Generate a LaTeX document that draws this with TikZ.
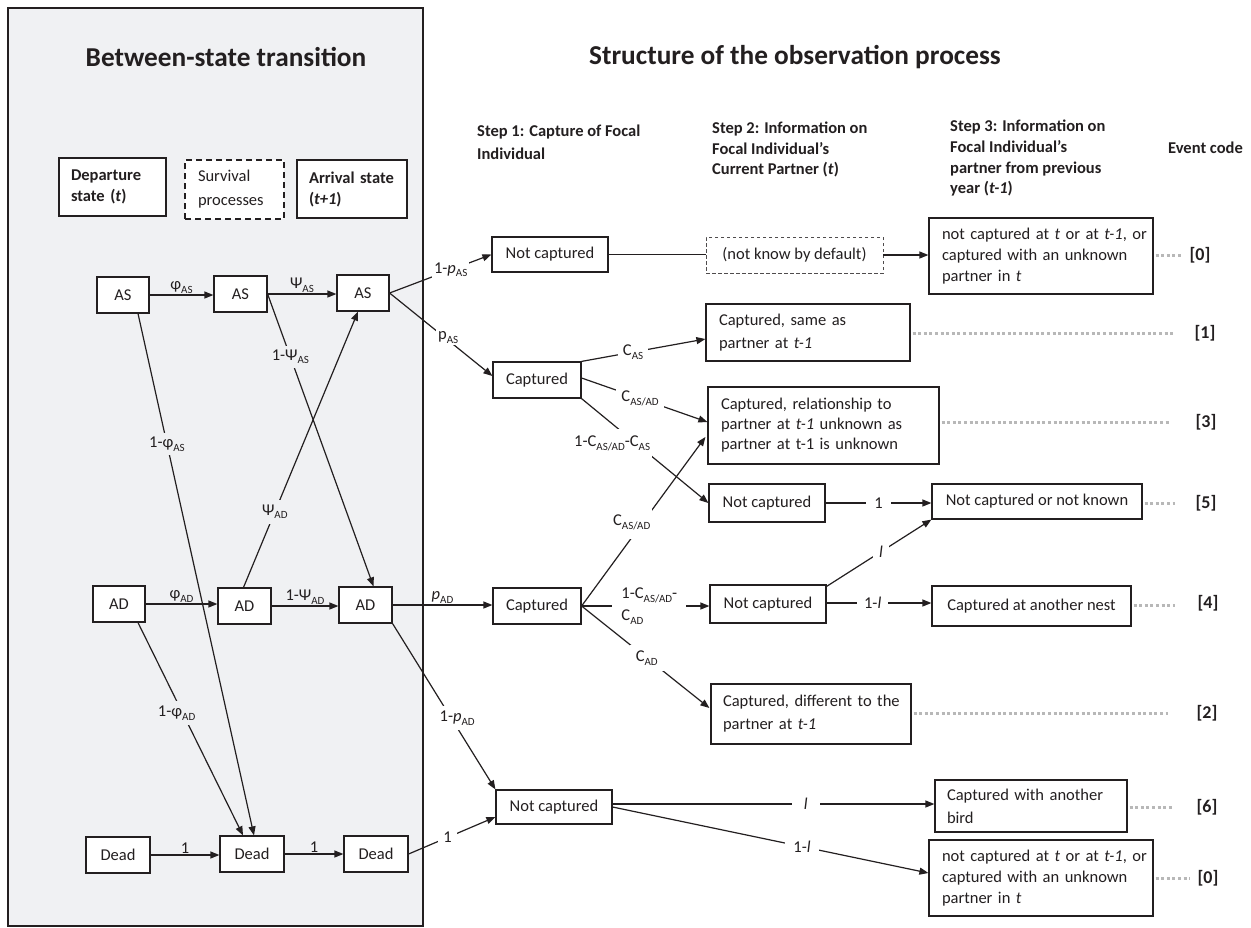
\documentclass[tikz,border=0pt]{standalone}
\usepackage{fontspec}
\setmainfont{Carlito}
\usetikzlibrary{arrows.meta,calc}
\definecolor{panel}{HTML}{F0F1F3}
\definecolor{ink}{HTML}{231F20}
\definecolor{dotc}{HTML}{B8B8B8}
\newcommand\sbs[1]{\raisebox{-0.22em}{\fontsize{11}{11}\selectfont #1}}
\newcommand\fsn{\fontsize{16.5}{21}\selectfont}
\begin{document}
\begin{tikzpicture}[x=1pt,y=-1pt,
  box/.style={draw=ink, line width=1.2pt, fill=white, inner sep=0pt, font=\fsn, text=ink},
  lbox/.style={box, align=left},
  arr/.style={draw=ink, line width=1.2pt, -{Triangle[length=9pt,width=7pt]}},
  ln/.style={draw=ink, line width=1.2pt},
  lbl/.style={font=\fsn, text=ink, inner sep=2pt, fill=white},
  lblg/.style={lbl, fill=panel},
  lbln/.style={font=\fsn, text=ink, inner sep=0pt},
  head/.style={font=\bfseries\fontsize{16.5}{23}\selectfont, align=left, inner sep=0pt, text=ink},
  ttl/.style={font=\bfseries\fontsize{27.3}{32}\selectfont, inner sep=0pt, text=ink, anchor=base},
  code/.style={font=\bfseries\fontsize{18}{20}\selectfont, inner sep=0pt, text=ink},
  dotl/.style={draw=dotc, line width=3pt, dash pattern=on 3pt off 2.6pt}
]
\useasboundingbox (0,0) rectangle (1251,927);
\fill[white] (0,0) rectangle (1251,927);
% left panel
\node[draw=ink, fill=panel, line width=1.2pt, minimum width=415pt, minimum height=918pt, inner sep=0pt] (panelbox) at (215.5,467) {};
\node[ttl] (t1) at (226,66) {Between-state transition};
\node[ttl] (t2) at (795,64) {Structure of the observation process};

% legend
\node[lbox, font=\bfseries\fontsize{16.5}{21}\selectfont, minimum width=107pt, minimum height=58pt, text width=83pt] (dep) at (112.5,187) {\mbox{Departure}\\\mbox{state (\textit{t})}};
\node[lbox, dashed, line width=1.8pt, dash pattern=on 6pt off 4pt, minimum width=99pt, minimum height=59pt, text width=73pt, font=\fontsize{16.5}{24}\selectfont] (surv) at (234.5,189.5) {\mbox{Survival}\\\mbox{processes}};
\node[lbox, font=\bfseries\fontsize{16.5}{21}\selectfont, minimum width=110pt, minimum height=58pt, text width=86pt] (arrv) at (352,189) {\mbox{Arrival state}\\\mbox{(\textit{t+1})}};

% state boxes
\node[box, minimum width=52pt, minimum height=36pt] (AS1) at (123,295) {AS};
\node[box, minimum width=53pt, minimum height=36pt] (AS2) at (240.5,294) {AS};
\node[box, minimum width=52pt, minimum height=36pt] (AS3) at (363,293) {AS};
\node[box, minimum width=52pt, minimum height=36pt] (AD1) at (119,604) {AD};
\node[box, minimum width=53pt, minimum height=36pt] (AD2) at (244.5,606) {AD};
\node[box, minimum width=53pt, minimum height=36pt] (AD3) at (365.5,605) {AD};
\node[box, minimum width=64pt, minimum height=36pt] (D1) at (118,855) {Dead};
\node[box, minimum width=64pt, minimum height=36pt] (D2) at (252,854) {Dead};
\node[box, minimum width=64pt, minimum height=36pt] (D3) at (376,854) {Dead};

% left panel connectors
\draw[arr] (AS1.east) -- node[lbln, above=1pt]{φ\sbs{AS}} (AS1.east -| AS2.west);
\draw[arr] (AS2.east) -- node[lbln, above=1pt]{Ψ\sbs{AS}} (AS2.east -| AS3.west);
\draw[arr] (AD1.east) -- node[lbln, above=1pt]{φ\sbs{AD}} (AD1.east -| AD2.west);
\draw[arr] (AD2.east) -- node[lbln, above=1pt]{1-Ψ\sbs{AD}} (AD2.east -| AD3.west);
\draw[arr] (D1.east) -- node[lbln, above=1pt]{1} (D1.east -| D2.west);
\draw[arr] (D2.east) -- node[lbln, above=1pt]{1} (D2.east -| D3.west);
\draw[arr] ($(AS1.south)+(15,0)$) -- node[lblg, pos=0.25, inner sep=4pt]{1-φ\sbs{AS}} ($(D2.north)+(2,0)$);
\draw[arr] (AS2.east) -- node[lblg, pos=0.215, inner sep=4pt]{1-Ψ\sbs{AS}} ($(AD3.north)+(8,0)$);
\draw[arr] ($(AD2.north)+(-1,0)$) -- node[lblg, pos=0.274, inner sep=5pt]{Ψ\sbs{AD}} ($(AS3.south)+(-5,0)$);
\draw[arr] ($(AD1.south)+(19,0)$) -- node[lblg, pos=0.425, xshift=-6pt, inner sep=5pt]{1-φ\sbs{AD}} ($(D2.north)+(-9,0)$);

% observation boxes
\node[box, minimum width=116pt, minimum height=35pt] (NC1) at (550,254.5) {Not captured};
\node[box, minimum width=88pt, minimum height=36pt] (Cap1) at (537,380) {Captured};
\node[box, draw=ink!80, line width=0.8pt, dash pattern=on 3.5pt off 2.5pt, minimum width=177pt, minimum height=36pt] (Dash) at (794.5,255) {(not know by default)};
\node[lbox, minimum width=224pt, minimum height=76pt, text width=198pt] (B0a) at (1041,256) {\mbox{not captured at \textit{t} or at \textit{t-1}, or}\\\mbox{captured with an unknown}\\\mbox{partner in \textit{t}}};
\node[lbox, minimum width=204pt, minimum height=57pt, text width=178pt, font=\fontsize{16.5}{23}\selectfont] (Same) at (808,332.5) {\mbox{Captured, same as}\\\mbox{partner at \textit{t-1}}};
\node[lbox, minimum width=231pt, minimum height=77pt, text width=205pt, font=\fontsize{16.5}{20}\selectfont] (Rel) at (823.5,425.5) {\mbox{Captured, relationship to}\\\mbox{partner at \textit{t-1} unknown as}\\\mbox{partner at t-1 is unknown}};
\node[box, minimum width=116pt, minimum height=38pt] (NC2) at (767,503) {Not captured};
\node[box, minimum width=210pt, minimum height=35pt] (NCK) at (1037,501.5) {Not captured or not known};
\node[box, minimum width=88pt, minimum height=36pt] (Cap2) at (537,606) {Captured};
\node[box, minimum width=116pt, minimum height=38pt] (NC3) at (768,604) {Not captured};
\node[box, minimum width=199pt, minimum height=40pt] (Anot) at (1031.5,606) {Captured at another nest};
\node[lbox, minimum width=200pt, minimum height=60pt, text width=176pt, font=\fontsize{16.5}{23}\selectfont] (Diff) at (811,714) {\mbox{Captured, different to the}\\\mbox{partner at \textit{t-1}}};
\node[box, minimum width=116pt, minimum height=34pt] (NC4) at (554,807) {Not captured};
\node[lbox, minimum width=192pt, minimum height=52pt, text width=168pt, font=\fontsize{16.5}{23}\selectfont] (Bird) at (1031,806) {\mbox{Captured with another}\\\mbox{bird}};
\node[lbox, minimum width=224pt, minimum height=76pt, text width=198pt] (B0b) at (1041,878) {\mbox{not captured at \textit{t} or at \textit{t-1}, or}\\\mbox{captured with an unknown}\\\mbox{partner in \textit{t}}};

% headings
\node[head, anchor=north west] (s1) at (477,125) {Step 1: Capture of Focal\\Individual};
\node[head, anchor=north west, font=\bfseries\fontsize{16.5}{20.5}\selectfont] (s2) at (712,122) {Step 2: Information on\\Focal Individual’s\\Current Partner (\textit{t})};
\node[head, anchor=north west, font=\bfseries\fontsize{16.5}{20.7}\selectfont] (s3) at (950,120) {Step 3: Information on\\Focal Individual’s\\partner from previous\\year (\textit{t-1})};
\node[head, anchor=west] (ec) at (1168,148) {Event code};

% cross connectors
\draw[arr] (AS3.east) -- node[lbl, pos=0.6]{1-\textit{p}\sbs{AS}} (NC1.west);
\draw[arr] (AS3.east) -- node[lbl, pos=0.57, yshift=3pt]{p\sbs{AS}} ($(Cap1.west)+(0,-4)$);
\draw[arr] (AD3.east) -- node[lbln, above=1pt]{\textit{p}\sbs{AD}} (AD3.east -| Cap2.west);
\draw[arr] (AD3.south east) -- node[lbl, pos=0.57, xshift=6pt, inner sep=5pt]{1-\textit{p}\sbs{AD}} (NC4.north west);
\draw[arr] (D3.east) -- node[lbl, pos=0.45, inner sep=5pt]{1} ($(NC4.west)+(0,10)$);

% observation connectors
\draw[ln] (NC1.east) -- (NC1.east -| Dash.west);
\draw[arr] (Dash.east) -- (Dash.east -| B0a.west);
\draw[arr] (Cap1.north east) -- node[lbl, pos=0.416, inner sep=5pt]{C\sbs{AS}} ($(Same.west)+(0,6.5)$);
\draw[arr] ($(Cap1.east)+(0,-2)$) -- node[lbl, pos=0.465, inner sep=5pt]{C\sbs{AS/AD}} ($(Rel.west)+(0,-3.5)$);
\draw[arr] (Cap1.south east) -- node[lbl, pos=0.43, xshift=-24pt, inner ysep=7pt]{1-C\sbs{AS/AD}-C\sbs{AS}} (NC2.west);
\draw[arr] (Cap2.east) -- node[lbl, pos=0.494, xshift=-11pt, inner ysep=9pt]{C\sbs{AS/AD}} ($(Rel.west)+(-2,11.5)$);
\draw[arr] (Cap2.east) -- node[lbl, pos=0.53, align=left, inner xsep=9pt, font=\fontsize{16.5}{22}\selectfont]{1-C\sbs{AS/AD}-\\C\sbs{AD}} (Cap2.east -| NC3.west);
\draw[arr] (Cap2.east) -- node[lbl, pos=0.51, inner sep=6pt]{C\sbs{AD}} ($(Diff.west)+(-1,-6)$);
\draw[arr] (NC2.east) -- node[lbl, inner xsep=8pt]{1} (NC2.east -| NCK.west);
\draw[arr] ($(NC3.north east)+(0,2)$) -- node[lbl, pos=0.52, inner sep=6pt]{\textit{l}} (NCK.south west);
\draw[arr] ($(NC3.east)+(0,-1)$) -- node[lbl, pos=0.44, inner xsep=7pt]{1-\textit{l}} ($(NC3.east -| Anot.west)+(0,-1)$);
\draw[arr] ($(NC4.east)+(0,-3)$) -- node[lbl, pos=0.6, inner xsep=12pt]{\textit{l}} ($(NC4.east -| Bird.west)+(0,-3)$);
\draw[arr] (NC4.east) -- node[lbl, pos=0.6, inner xsep=8pt]{1-\textit{l}} ($(B0b.west)+(0,-5)$);

% event codes
\node[code] (e0a) at (1200,255) {[0]};
\node[code] (e1) at (1205,333) {[1]};
\node[code] (e3) at (1206,422) {[3]};
\node[code] (e5) at (1206,503) {[5]};
\node[code] (e4) at (1208,603) {[4]};
\node[code] (e2) at (1207,713) {[2]};
\node[code] (e6) at (1207,807) {[6]};
\node[code] (e0b) at (1208,878) {[0]};
\coordinate (d0a) at (1183,255);
\coordinate (d1) at (1175,333);
\coordinate (d3) at (1170,422);
\coordinate (d5) at (1175,503);
\coordinate (d4) at (1175,605);
\coordinate (d2) at (1168,713);
\coordinate (d6) at (1172,807);
\coordinate (d0b) at (1190,878);
\draw[dotl] ($(B0a.east |- d0a)+(2,0)$) -- (d0a);
\draw[dotl] ($(Same.east |- d1)+(2,0)$) -- (d1);
\draw[dotl] ($(Rel.east |- d3)+(2,0)$) -- (d3);
\draw[dotl] ($(NCK.east |- d5)+(2,0)$) -- (d5);
\draw[dotl] ($(Anot.east |- d4)+(2,0)$) -- (d4);
\draw[dotl] ($(Diff.east |- d2)+(2,0)$) -- (d2);
\draw[dotl] ($(Bird.east |- d6)+(2,0)$) -- (d6);
\draw[dotl] ($(B0b.east |- d0b)+(2,0)$) -- (d0b);
\end{tikzpicture}
\end{document}
